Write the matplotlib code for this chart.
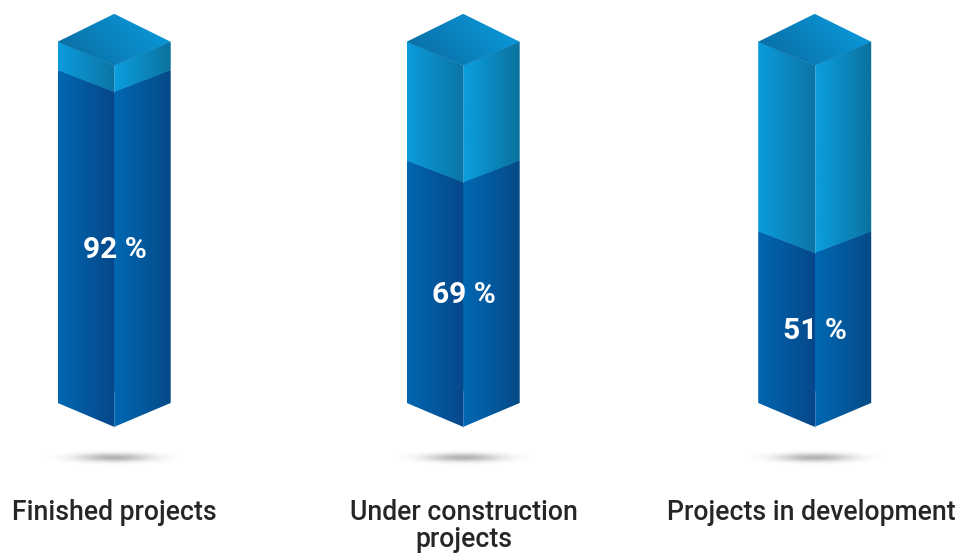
import numpy as np
import matplotlib
matplotlib.use("Agg")
import matplotlib.pyplot as plt
from matplotlib.colors import LinearSegmentedColormap
from matplotlib.patches import Polygon

categories = ["Finished projects", "Under construction\nprojects", "Projects in development"]
percentages = [92, 69, 51]
value_labels = ["92 %", "69 %", "51 %"]
label_heights = [46.2, 34.8, 25.8]  # vertical placement of the percentage labels, in axis units

centers = [114.2, 463.2, 814.7]
category_x = [114.5, 463.5, 811.7]
half_width = 56.5
base_value = 7.4    # where the column body ends at the bottom
full_value = 99.3   # where the column body ends at the top
skew = 6.1          # vertical drop of the isometric front edge, in axis units
fill_skew = 5.5     # same drop for the edge of the filled part

FONT = "Roboto"
LOWER_L = ("#0067b0", "#07478a")
LOWER_R = ("#0068b3", "#064a87")
UPPER_L = ("#0b9cde", "#0c74a3")
UPPER_R = ("#0b9fe1", "#0b729d")
TOP = ("#0a6ea3", "#0a9cdf")

fig = plt.figure(figsize=(9.59, 5.54), dpi=100)
ax = fig.add_axes([0, 0, 1, 1])
ax.set_xlim(0, 959)
ax.set_ylim(-31.04, 109.92)
ax.axis("off")


def gradient_face(points, colors, diagonal=False):
    xs = [p[0] for p in points]
    ys = [p[1] for p in points]
    extent = (min(xs), max(xs), min(ys), max(ys))
    cmap = LinearSegmentedColormap.from_list("face", colors)
    u = np.linspace(0, 1, 256)
    if diagonal:
        v = np.linspace(1, 0, 128)
        uu, vv = np.meshgrid(u, v)
        field = np.clip(0.8 * uu + 0.35 * vv - 0.1, 0, 1)
    else:
        field = u[np.newaxis, :]
    im = ax.imshow(field, cmap=cmap, vmin=0, vmax=1, extent=extent,
                   aspect="auto", origin="upper", interpolation="bilinear", zorder=2)
    clip = Polygon(points, closed=True, transform=ax.transData)
    im.set_clip_path(clip)


def floor_shadow(cx, value):
    x = np.linspace(-76, 76, 240)
    y = np.linspace(-2.4, 2.4, 60)
    xx, yy = np.meshgrid(x, y)
    r2 = (xx / 30.0) ** 2 + (yy / 0.85) ** 2
    alpha = 0.38 * np.exp(-r2 / 2.0)
    alpha *= np.clip(1 - (xx / 76.0) ** 2 - (yy / 2.4) ** 2, 0, 1)
    rgba = np.zeros(xx.shape + (4,))
    rgba[..., :3] = 0.2
    rgba[..., 3] = alpha
    ax.imshow(rgba, extent=(cx - 76, cx + 76, value - 2.4, value + 2.4),
              aspect="auto", origin="upper", zorder=1)


for cx, tx, pct, cat, lab, ly in zip(centers, category_x, percentages, categories, value_labels, label_heights):
    xl, xr = cx - half_width, cx + half_width
    notch = pct - fill_skew

    # solid backing closes the seams between the gradient faces
    ax.add_patch(Polygon([(xl + 1, base_value), (cx, base_value - skew + 0.3), (xr - 1, base_value),
                          (xr - 1, pct), (cx, notch), (xl + 1, pct)],
                         closed=True, fc="#07508f", ec="none", zorder=1.5))
    ax.add_patch(Polygon([(xl + 1, pct), (cx, notch), (xr - 1, pct), (xr - 1, full_value),
                          (cx, full_value - skew), (xl + 1, full_value)],
                         closed=True, fc="#0c78a8", ec="none", zorder=1.5))

    # empty upper part of the column
    gradient_face([(xl, pct), (cx, notch), (cx, full_value - skew), (xl, full_value)], UPPER_L)
    gradient_face([(cx, notch), (xr, pct), (xr, full_value), (cx, full_value - skew)], UPPER_R)
    # filled lower part of the column
    gradient_face([(xl, base_value), (cx, base_value - skew), (cx, notch), (xl, pct)], LOWER_L)
    gradient_face([(cx, base_value - skew), (xr, base_value), (xr, pct), (cx, notch)], LOWER_R)
    # cap
    gradient_face([(xl, full_value), (cx, full_value - skew), (xr, full_value), (cx, full_value + 7.1)],
                  TOP, diagonal=True)

    # faint light edges on the front corner
    ax.plot([cx, cx], [notch, full_value - skew], color="#6fb6d8", lw=0.6, alpha=0.5, zorder=3)
    ax.plot([cx, cx], [base_value - skew, base_value + 3], color="#6f9cc8", lw=0.6, alpha=0.6, zorder=3)

    floor_shadow(cx, -6.4)

    ax.text(cx + 0.3, ly, lab, color="white", ha="center", va="center",
            fontsize=21.5, fontweight="bold", family=FONT, zorder=4)

    ax.text(tx, -17.1, cat, color="#262626", ha="center", va="top",
            fontsize=19.2, fontweight="medium", family=FONT, linespacing=1.0, zorder=4)

fig.savefig("out.png", dpi=100, facecolor="white")
